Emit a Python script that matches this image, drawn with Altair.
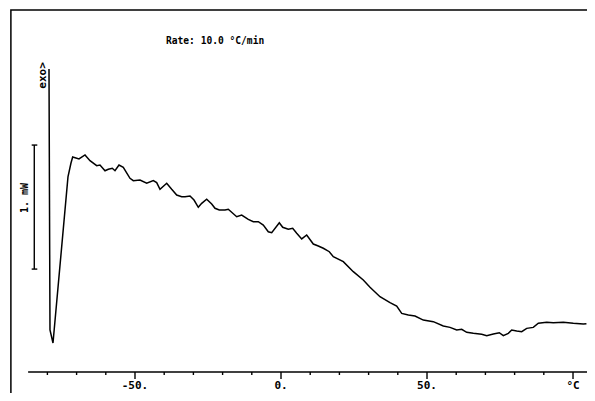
import altair as alt
import pandas as pd

# DSC curve: temperature (°C) and heat flow (mW, relative to axis line)
temps = [-79.45, -79.11, -78.08, -72.95, -71.92, -71.34, -69.18, -67.12, -65.41, -63.12,
         -61.99, -60.27, -59.14, -57.77, -56.85, -55.48, -54.01, -51.71, -50.58, -48.29,
         -45.99, -43.73, -42.57, -41.44, -39.14, -37.43, -35.72, -34.01, -32.88, -31.16,
         -29.79, -28.32, -27.16, -25.45, -23.73, -22.60, -21.13, -19.18, -18.05, -15.17,
         -13.46, -11.20, -9.49, -7.77, -6.06, -4.35, -3.18, -0.58, 0.58, 2.50,
         4.01, 5.38, 7.09, 8.80, 11.06, 12.77, 14.49, 16.54, 17.91, 21.34,
         24.76, 28.18, 30.48, 33.90, 37.33, 39.62, 41.34, 43.60, 45.89, 48.73,
         52.16, 55.58, 57.88, 60.17, 61.88, 63.60, 65.86, 68.73, 70.45, 72.71,
         74.76, 76.13, 77.84, 79.01, 80.72, 82.43, 84.14, 86.40, 88.12, 90.99,
         93.25, 96.68, 100.10, 103.53, 104.6]
heat = [2.444, 0.339, 0.234, 1.573, 1.685, 1.734, 1.718, 1.750, 1.704, 1.664,
        1.669, 1.623, 1.635, 1.643, 1.623, 1.669, 1.651, 1.562, 1.543, 1.548,
        1.522, 1.543, 1.527, 1.473, 1.522, 1.473, 1.427, 1.414, 1.414, 1.419,
        1.387, 1.328, 1.360, 1.393, 1.355, 1.320, 1.306, 1.306, 1.312, 1.252,
        1.266, 1.231, 1.212, 1.212, 1.185, 1.131, 1.123, 1.204, 1.167, 1.151,
        1.159, 1.119, 1.073, 1.105, 1.032, 1.016, 0.998, 0.970, 0.930, 0.890,
        0.809, 0.742, 0.683, 0.607, 0.559, 0.532, 0.473, 0.460, 0.452, 0.419,
        0.406, 0.371, 0.360, 0.339, 0.344, 0.320, 0.312, 0.304, 0.293, 0.306,
        0.317, 0.293, 0.312, 0.339, 0.331, 0.325, 0.352, 0.360, 0.393, 0.401,
        0.398, 0.401, 0.393, 0.387, 0.390]

major_ticks = [-50, 0, 50, 100]
major_labels = ["-50.", "0.", "50.", "°C"]
minor_ticks = [-80, -70, -60, -40, -30, -20, -10, 10, 20, 30, 40, 60, 70, 80, 90]

X_DOMAIN = [-93.49, 104.79]
Y_DOMAIN = [-0.169, 2.935]

xs = alt.Scale(domain=X_DOMAIN, nice=False, zero=False)
ys = alt.Scale(domain=Y_DOMAIN, nice=False, zero=False)


def X(f):
    return alt.X(f, type="quantitative", scale=xs, axis=None)


def Y(f):
    return alt.Y(f, type="quantitative", scale=ys, axis=None)


curve_df = pd.DataFrame({"t": temps, "q": heat, "i": list(range(len(temps)))})
curve = alt.Chart(curve_df).mark_line(color="black", strokeWidth=1.5).encode(
    x=X("t"), y=Y("q"), order="i:Q")

# plotter frame (top and left edges) as one polyline
frame_df = pd.DataFrame({"fx": [104.79, -92.5, -92.5], "fy": [2.919, 2.919, -0.169],
                         "fo": [0, 1, 2]})
frame = alt.Chart(frame_df).mark_line(color="black", strokeWidth=1.5).encode(
    x=X("fx"), y=Y("fy"), order="fo:Q")

# x axis base line
axis_df = pd.DataFrame({"ax": [-86.6, 104.79], "ay": [0.0, 0.0]})
axis_line = alt.Chart(axis_df).mark_line(color="black", strokeWidth=1.6).encode(
    x=X("ax"), y=Y("ay"))

major_df = pd.DataFrame({"mt": major_ticks, "label": major_labels,
                         "my0": [0.0] * 4, "my1": [-0.056] * 4, "ly": [-0.152] * 4})
minor_df = pd.DataFrame({"nt": minor_ticks, "ny0": [0.0] * len(minor_ticks),
                         "ny1": [-0.024] * len(minor_ticks)})
major = alt.Chart(major_df).mark_rule(color="black", strokeWidth=1.4).encode(
    x=X("mt"), y=Y("my0"), y2="my1")
minor = alt.Chart(minor_df).mark_rule(color="black", strokeWidth=1.4).encode(
    x=X("nt"), y=Y("ny0"), y2="ny1")
labels = alt.Chart(major_df).mark_text(
    font="DejaVu Sans Mono", fontSize=11, fontWeight="bold", color="black",
    align="center", baseline="bottom").encode(x=X("mt"), y=Y("ly"), text="label")

# 1 mW scale bar with end caps
bar_df = pd.DataFrame({"bx": [-84.49], "by0": [0.83], "by1": [1.83]})
bar = alt.Chart(bar_df).mark_rule(color="black", strokeWidth=1.4).encode(
    x=X("bx"), y=Y("by0"), y2="by1")
caps_df = pd.DataFrame({"cx0": [-85.38, -85.38], "cx1": [-83.46, -83.46], "cy": [0.83, 1.83]})
caps = alt.Chart(caps_df).mark_rule(color="black", strokeWidth=1.4).encode(
    x=X("cx0"), x2="cx1", y=Y("cy"))

texts_df = pd.DataFrame({"sx": [-87.67, -81.5], "sy": [1.403, 2.391],
                         "s": ["1. mW", "exo>"], "fs": [10, 11]})
side_text = alt.Chart(texts_df).mark_text(
    font="DejaVu Sans Mono", fontWeight="bold", color="black",
    angle=270, align="center", baseline="middle").encode(
    x=X("sx"), y=Y("sy"), text="s", size=alt.Size("fs:Q", scale=None, legend=None))

rate_df = pd.DataFrame({"rx": [-39.38], "ry": [2.672], "s": ["Rate: 10.0 °C/min"]})
rate = alt.Chart(rate_df).mark_text(
    font="DejaVu Sans Mono", fontSize=9.6, fontWeight="bold", color="black",
    align="left", baseline="middle").encode(x=X("rx"), y=Y("ry"), text="s")

chart = alt.layer(frame, axis_line, minor, major, labels, bar, caps,
                  side_text, rate, curve).properties(
    width=579, height=385, padding=0, background="white",
    autosize=alt.AutoSizeParams(type="none")
).configure_view(strokeWidth=0)

chart.save("out.html", embed_options={"renderer": "svg", "actions": False})
